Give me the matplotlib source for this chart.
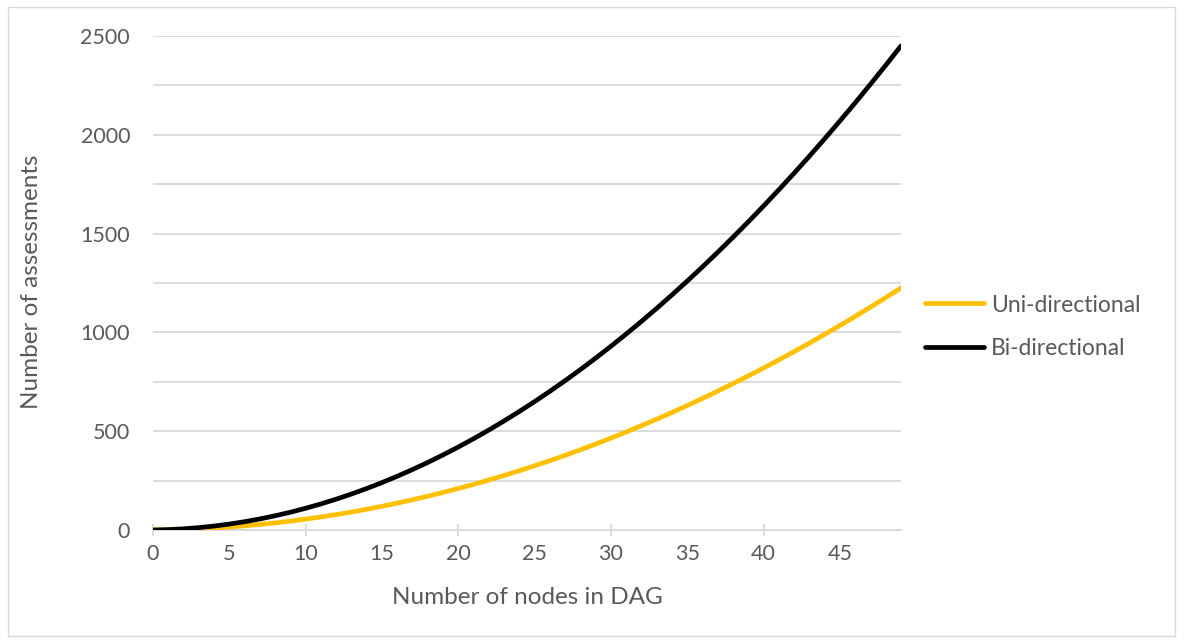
import matplotlib
matplotlib.use('Agg')
import matplotlib.pyplot as plt
from matplotlib.patches import Rectangle

plt.rcParams['font.family'] = ['Lato', 'DejaVu Sans']

nodes = list(range(50))
uni = [0, 1, 3, 6, 10, 15, 21, 28, 36, 45, 55, 66, 78, 91, 105, 120, 136, 153, 171, 190,
       210, 231, 253, 276, 300, 325, 351, 378, 406, 435, 465, 496, 528, 561, 595, 630,
       666, 703, 741, 780, 820, 861, 903, 946, 990, 1035, 1081, 1128, 1176, 1225]
bi = [0, 2, 6, 12, 20, 30, 42, 56, 72, 90, 110, 132, 156, 182, 210, 240, 272, 306, 342, 380,
      420, 462, 506, 552, 600, 650, 702, 756, 812, 870, 930, 992, 1056, 1122, 1190, 1260,
      1332, 1406, 1482, 1560, 1640, 1722, 1806, 1892, 1980, 2070, 2162, 2256, 2352, 2450]
xlabels = [0, 5, 10, 15, 20, 25, 30, 35, 40, 45]
yticks = [0, 500, 1000, 1500, 2000, 2500]

txt = '#595959'
grid = '#d9d9d9'

fig = plt.figure(figsize=(11.84, 6.44), dpi=100)
fig.patches.append(Rectangle((8 / 1184, 8 / 644), 1167 / 1184, 629 / 644,
                             transform=fig.transFigure, fill=False,
                             edgecolor=grid, linewidth=1))
ax = fig.add_axes([153 / 1184, 1 - 530 / 644, 748 / 1184, 494 / 644])

ax.plot(nodes, uni, color='#ffc000', lw=3.4, solid_capstyle='round', label='Uni-directional', zorder=3)
ax.plot(nodes, bi, color='#000000', lw=3.4, solid_capstyle='round', label='Bi-directional', zorder=3)

ax.set_xlim(0, 49)
ax.set_ylim(0, 2500)
ax.set_yticks(range(0, 2501, 250))
ax.set_yticklabels([str(v) if v in yticks else '' for v in range(0, 2501, 250)])
ax.yaxis.grid(True, color=grid, lw=1.3)
ax.set_axisbelow(True)
ax.tick_params(axis='y', length=0, pad=16.5, labelsize=15.5, labelcolor=txt)

ax.set_xticks(xlabels)
ax.set_xticklabels([str(v) for v in xlabels])
ax.set_xticks([0, 10, 20, 30, 40], minor=True)
ax.xaxis.remove_overlapping_locs = False
ax.tick_params(axis='x', which='major', length=0, pad=10, labelsize=15.5, labelcolor=txt)
ax.tick_params(axis='x', which='minor', direction='inout', length=9, color=grid, width=1.3)

for s in ['top', 'right', 'left']:
    ax.spines[s].set_visible(False)
ax.spines['bottom'].set_color(grid)
ax.spines['bottom'].set_linewidth(1.3)

ax.set_xlabel('Number of nodes in DAG', fontsize=17.5, color=txt)
ax.xaxis.set_label_coords(0.501, -0.115)
ax.set_ylabel('Number of assessments', fontsize=17.5, color=txt)
ax.yaxis.set_label_coords(-0.148, 0.502)

ax.legend(loc='center left', bbox_to_anchor=(1.004, 0.411), frameon=False,
          fontsize=16.5, labelcolor=txt, handlelength=2.6, handletextpad=0.3,
          labelspacing=1.0)

fig.savefig('out.png', dpi=100)
